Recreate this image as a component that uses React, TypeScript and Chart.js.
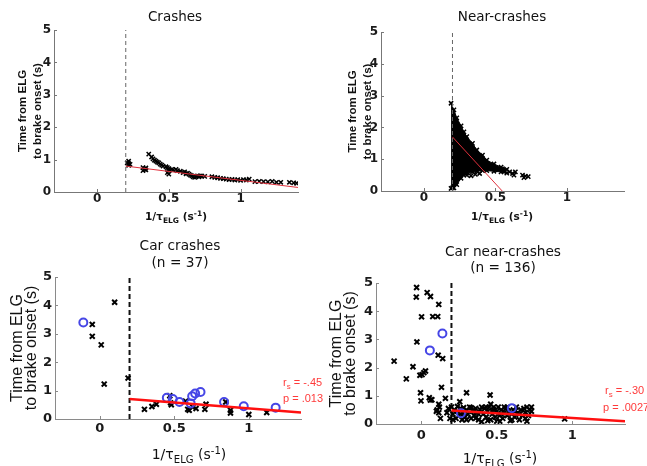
import React, { useEffect, useRef } from "react";
import { Chart, registerables } from "chart.js";
Chart.register(...registerables);

// ---------------- DATA ----------------
const X_TICKS = [0, 0.5, 1];
const Y_TICKS = [0, 1, 2, 3, 4, 5];
const THRESHOLD_X = [0.2, 0.2];
const THRESHOLD_Y = [0, 5];

// Crashes (top-left)
const crashX = [0.21, 0.22, 0.22, 0.22, 0.23, 0.32, 0.32, 0.33, 0.34, 0.34, 0.36, 0.38, 0.39, 0.4, 0.41, 0.42, 0.43, 0.44, 0.45, 0.46, 0.48, 0.49, 0.49, 0.5, 0.5, 0.5, 0.52, 0.53, 0.55, 0.56, 0.58, 0.6, 0.61, 0.62, 0.63, 0.64, 0.65, 0.66, 0.67, 0.68, 0.69, 0.7, 0.71, 0.72, 0.73, 0.75, 0.8, 0.82, 0.84, 0.86, 0.88, 0.9, 0.92, 0.94, 0.96, 0.98, 1.0, 1.02, 1.04, 1.06, 1.1, 1.13, 1.16, 1.19, 1.22, 1.25, 1.28, 1.34, 1.37, 1.39];
const crashY = [0.9, 0.95, 0.88, 0.82, 0.85, 0.75, 0.66, 0.7, 0.68, 0.74, 1.17, 1.08, 1.02, 0.98, 0.95, 0.92, 0.9, 0.86, 0.83, 0.8, 0.78, 0.75, 0.6, 0.55, 0.65, 0.72, 0.7, 0.68, 0.7, 0.66, 0.64, 0.6, 0.62, 0.56, 0.58, 0.55, 0.52, 0.5, 0.47, 0.45, 0.48, 0.5, 0.47, 0.5, 0.49, 0.48, 0.47, 0.45, 0.44, 0.42, 0.41, 0.4, 0.38, 0.39, 0.37, 0.38, 0.36, 0.38, 0.37, 0.4, 0.32, 0.33, 0.32, 0.31, 0.33, 0.3, 0.3, 0.3, 0.28, 0.27];
const crashFitX = [0.2, 1.4];
const crashFitY = [0.8, 0.14];

// Near-crashes (top-right): outline of the dense cloud of points
const nearEnvX = [0.19, 0.21, 0.23, 0.26, 0.28, 0.3, 0.34, 0.37, 0.41, 0.44, 0.49, 0.54, 0.58];
const nearUpperY = [2.76, 2.55, 2.3, 2.05, 1.86, 1.71, 1.5, 1.29, 1.13, 0.97, 0.85, 0.75, 0.68];
const nearLowerY = [0.08, 0.1, 0.2, 0.4, 0.5, 0.56, 0.6, 0.62, 0.64, 0.64, 0.62, 0.6, 0.56];
const nearSparseX = [0.2, 0.3, 0.33, 0.36, 0.39, 0.55, 0.56, 0.6, 0.62, 0.63, 0.64, 0.69, 0.7, 0.71, 0.73];
const nearSparseY = [0.1, 0.5, 0.48, 0.52, 0.55, 0.7, 0.6, 0.6, 0.55, 0.5, 0.6, 0.5, 0.42, 0.47, 0.45];
const nearFitX = [0.2, 0.548];
const nearFitY = [1.7, 0];

// Car crashes (bottom-left)
const carCrossX = [-0.05, -0.05, 0.01, 0.1, 0.03, 0.19, 0.3, 0.35, 0.38, 0.47, 0.475, 0.576, 0.59, 0.624, 0.646, 0.6, 0.713, 0.705, 0.845, 0.877, 0.877, 1.0, 1.12, 0.48];
const carCrossY = [3.33, 2.91, 2.61, 4.11, 1.23, 1.44, 0.34, 0.44, 0.52, 0.82, 0.57, 0.63, 0.34, 0.42, 0.37, 0.31, 0.52, 0.34, 0.6, 0.31, 0.21, 0.16, 0.23, 0.5];
const carCircleX = [-0.11, 0.45, 0.49, 0.535, 0.61, 0.62, 0.64, 0.676, 0.834, 0.966, 1.18];
const carCircleY = [3.4, 0.75, 0.7, 0.6, 0.55, 0.8, 0.9, 0.95, 0.6, 0.45, 0.4];
const carFitX = [0.2, 1.35];
const carFitY = [0.7, 0.23];

// Car near-crashes (bottom-right)
const carNearCrossX = [-0.031, -0.033, 0.039, 0.061, 0.116, 0.002, 0.076, 0.109, -0.029, 0.112, 0.142, -0.18, -0.055, -0.099, -0.009, 0.017, 0.028, 0.005, 0.134, -0.005, -0.002, 0.053, 0.06, 0.07, 0.16, 0.116, 0.105, 0.12, 0.116, 0.127, 0.17, 0.18, 0.19, 0.1,
  0.255, 0.3, 0.456, 0.95, 0.22, 0.21, 0.23, 0.24, 0.25, 0.26, 0.27, 0.28, 0.29, 0.3, 0.31, 0.32, 0.33, 0.34, 0.35, 0.36, 0.37, 0.38, 0.39, 0.4, 0.41, 0.42, 0.43, 0.44, 0.45, 0.46, 0.46, 0.47, 0.48, 0.49, 0.5, 0.5, 0.51, 0.52, 0.53, 0.54, 0.55, 0.56, 0.57, 0.58, 0.59, 0.6, 0.61, 0.62, 0.63, 0.64, 0.65, 0.66, 0.67, 0.68, 0.69, 0.7, 0.71, 0.72, 0.73, 0.73, 0.2, 0.21, 0.24, 0.28, 0.33, 0.36, 0.4, 0.44, 0.48, 0.52, 0.55, 0.35, 0.3, 0.43, 0.57, 0.6, 0.62, 0.26, 0.38, 0.47, 0.53, 0.65, 0.69, 0.7];
const carNearCrossY = [4.84, 4.5, 4.66, 4.52, 4.24, 3.8, 3.81, 3.81, 2.91, 2.44, 2.32, 2.23, 2.03, 1.6, 1.73, 1.82, 1.88, 1.75, 1.3, 1.11, 0.82, 0.93, 0.85, 0.86, 0.91, 0.7, 0.5, 0.6, 0.4, 0.2, 0.4, 0.55, 0.2, 0.45,
  0.79, 1.11, 1.03, 0.18, 0.5, 0.35, 0.2, 0.45, 0.3, 0.55, 0.15, 0.4, 0.25, 0.5, 0.35, 0.6, 0.2, 0.45, 0.3, 0.55, 0.4, 0.15, 0.5, 0.08, 0.35, 0.55, 0.25, 0.45, 0.6, 0.7, 0.15, 0.35, 0.5, 0.25, 0.45, 0.1, 0.6, 0.3, 0.5, 0.2, 0.4, 0.55, 0.3, 0.45, 0.12, 0.35, 0.5, 0.25, 0.6, 0.4, 0.15, 0.5, 0.3, 0.55, 0.4, 0.6, 0.3, 0.5, 0.45, 0.6, 0.6, 0.15, 0.62, 0.58, 0.58, 0.2, 0.6, 0.12, 0.6, 0.1, 0.6, 0.5, 0.15, 0.6, 0.6, 0.15, 0.45, 0.35, 0.35, 0.45, 0.35, 0.35, 0.2, 0.1];
const carNearCircleX = [0.14, 0.057, 0.263, 0.6];
const carNearCircleY = [3.21, 2.61, 0.38, 0.56];
const carNearFitX = [0.2, 1.35];
const carNearFitY = [0.48, 0.1];

// ---------------- HELPERS ----------------
const xy = (xs: number[], ys: number[]) => xs.map((x, i) => ({ x, y: ys[i] }));

const BLUE = "#4646e6";
const RED_TOP = "#e0303c";
const RED = "#ff1010";

const inwardTicks = {
  id: "inwardTicks",
  afterDatasetsDraw(chart: any, _a: any, opts: any) {
    const { ctx } = chart;
    const xs = chart.scales.x;
    const ys = chart.scales.y;
    ctx.save();
    ctx.strokeStyle = opts.color;
    ctx.lineWidth = 1;
    ctx.beginPath();
    for (const v of X_TICKS) {
      const px = Math.round(xs.getPixelForValue(v)) + 0.5;
      ctx.moveTo(px, ys.bottom);
      ctx.lineTo(px, ys.bottom - opts.len);
    }
    for (const v of Y_TICKS) {
      const py = Math.round(ys.getPixelForValue(v)) + 0.5;
      ctx.moveTo(xs.left, py);
      ctx.lineTo(xs.left + opts.len, py);
    }
    ctx.stroke();
    ctx.restore();
  },
};

type Spec = {
  box: { l: number; t: number; w: number; h: number };
  area: { x0: number; x1: number; y0: number; y1: number };
  xMin: number;
  xMax: number;
  xScaleH: number;
  tickFont: any;
  xTickPad: number;
  yTickPad: number;
  yTitleFont: any;
  yTitlePadTop: number;
  axisColor: string;
  datasets: any[];
};

function buildConfig(s: Spec): any {
  const padTop = s.area.y0 - s.box.t;
  const padRight = s.box.l + s.box.w - s.area.x1;
  const padBottom = s.box.t + s.box.h - s.area.y1 - s.xScaleH;
  const yScaleW = s.area.x0 - s.box.l;
  return {
    type: "scatter",
    data: { datasets: s.datasets },
    options: {
      animation: false,
      responsive: false,
      events: [],
      layout: { padding: { left: 0, right: padRight, top: padTop, bottom: padBottom } },
      plugins: {
        legend: { display: false },
        tooltip: { enabled: false },
        inwardTicks: { color: s.axisColor, len: 3 },
      },
      scales: {
        x: {
          type: "linear",
          min: s.xMin,
          max: s.xMax,
          afterBuildTicks: (sc: any) => {
            sc.ticks = X_TICKS.map((v) => ({ value: v }));
          },
          ticks: { font: s.tickFont, color: "#1a1a1a", padding: s.xTickPad, maxRotation: 0, autoSkip: false, callback: (v: any) => String(v) },
          grid: { display: false, drawTicks: false },
          border: { display: true, color: s.axisColor, width: 1 },
          afterFit: (sc: any) => {
            sc.height = s.xScaleH;
          },
        },
        y: {
          type: "linear",
          min: 0,
          max: 5,
          afterBuildTicks: (sc: any) => {
            sc.ticks = Y_TICKS.map((v) => ({ value: v }));
          },
          ticks: { font: s.tickFont, color: "#1a1a1a", padding: s.yTickPad, autoSkip: false, callback: (v: any) => String(v) },
          grid: { display: false, drawTicks: false },
          border: { display: true, color: s.axisColor, width: 1 },
          title: {
            display: true,
            text: ["Time from ELG", "to brake onset (s)"],
            font: s.yTitleFont,
            color: "#111",
            padding: { top: s.yTitlePadTop, bottom: 0 },
          },
          afterFit: (sc: any) => {
            sc.width = yScaleW;
          },
        },
      },
    },
    plugins: [inwardTicks],
  };
}

const lineDs = (xs: number[], ys: number[], color: string, width: number, dash: number[] = []) => ({
  type: "line",
  data: xy(xs, ys),
  borderColor: color,
  borderWidth: width,
  borderDash: dash,
  pointRadius: 0,
  fill: false,
  tension: 0,
});

const crossDs = (xs: number[], ys: number[], r: number, w: number) => ({
  data: xy(xs, ys),
  pointStyle: "crossRot",
  pointRadius: r,
  borderColor: "#000",
  backgroundColor: "#000",
  pointBorderWidth: w,
  borderWidth: w,
});

const circleDs = (xs: number[], ys: number[]) => ({
  data: xy(xs, ys),
  pointStyle: "circle",
  pointRadius: 4,
  borderColor: BLUE,
  backgroundColor: "rgba(0,0,0,0)",
  borderWidth: 2,
});

const TOP_TICK_FONT = { family: "'DejaVu Sans'", size: 12, weight: "bold" };
const BOT_TICK_FONT = { family: "'DejaVu Sans'", size: 13, weight: "bold" };
const TOP_YTITLE_FONT = { family: "'Liberation Sans'", size: 11.5, weight: "bold", lineHeight: 1.27 };
const BOT_YTITLE_FONT = { family: "'Liberation Sans'", size: 16, weight: "normal", lineHeight: 0.86 };

const specs: Spec[] = [
  {
    box: { l: 0, t: 0, w: 322, h: 212 },
    area: { x0: 54, x1: 298, y0: 30, y1: 192 },
    xMin: -0.3,
    xMax: 1.4,
    xScaleH: 18,
    tickFont: TOP_TICK_FONT,
    xTickPad: 0,
    yTickPad: 3,
    yTitleFont: TOP_YTITLE_FONT,
    yTitlePadTop: 16,
    axisColor: "#777",
    datasets: [
      lineDs(crashFitX, crashFitY, RED_TOP, 1),
      lineDs(THRESHOLD_X, THRESHOLD_Y, "#666", 1, [4, 3]),
      crossDs(crashX, crashY, 3, 1.5),
    ],
  },
  {
    box: { l: 320, t: 0, w: 327, h: 212 },
    area: { x0: 381, x1: 624, y0: 32, y1: 191 },
    xMin: -0.3,
    xMax: 1.4,
    xScaleH: 18,
    tickFont: TOP_TICK_FONT,
    xTickPad: 0,
    yTickPad: 3,
    yTitleFont: TOP_YTITLE_FONT,
    yTitlePadTop: 26,
    axisColor: "#777",
    datasets: [
      lineDs(nearFitX, nearFitY, RED_TOP, 1),
      lineDs(THRESHOLD_X, THRESHOLD_Y, "#666", 1, [4, 3]),
      crossDs(nearSparseX, nearSparseY, 3, 1.5),
      {
        ...crossDs(nearEnvX, nearLowerY, 3, 1.5),
        type: "line",
        showLine: true,
        borderWidth: 1,
        fill: false,
      },
      {
        ...crossDs(nearEnvX, nearUpperY, 3, 1.5),
        type: "line",
        showLine: true,
        borderWidth: 1,
        fill: 3,
        backgroundColor: "#000",
      },
    ],
  },
  {
    box: { l: 0, t: 226, w: 325, h: 220 },
    area: { x0: 55, x1: 301, y0: 277, y1: 419 },
    xMin: -0.3,
    xMax: 1.35,
    xScaleH: 20,
    tickFont: BOT_TICK_FONT,
    xTickPad: 2,
    yTickPad: 3,
    yTitleFont: BOT_YTITLE_FONT,
    yTitlePadTop: 10.5,
    axisColor: "#8a8a8a",
    datasets: [
      lineDs(carFitX, carFitY, RED, 2.5),
      circleDs(carCircleX, carCircleY),
      crossDs(carCrossX, carCrossY, 3.5, 2),
      lineDs(THRESHOLD_X, THRESHOLD_Y, "#111", 2, [5, 3]),
    ],
  },
  {
    box: { l: 320, t: 226, w: 327, h: 220 },
    area: { x0: 376, x1: 625, y0: 283, y1: 424 },
    xMin: -0.3,
    xMax: 1.35,
    xScaleH: 18,
    tickFont: BOT_TICK_FONT,
    xTickPad: 4,
    yTickPad: 3,
    yTitleFont: BOT_YTITLE_FONT,
    yTitlePadTop: 10,
    axisColor: "#8a8a8a",
    datasets: [
      lineDs(carNearFitX, carNearFitY, RED, 2.5),
      circleDs(carNearCircleX, carNearCircleY),
      crossDs(carNearCrossX, carNearCrossY, 3.5, 2),
      lineDs(THRESHOLD_X, THRESHOLD_Y, "#111", 2, [5, 3]),
    ],
  },
];

function Panel({ spec }: { spec: Spec }) {
  const ref = useRef<HTMLCanvasElement>(null);
  useEffect(() => {
    const chart = new Chart(ref.current as HTMLCanvasElement, buildConfig(spec));
    return () => chart.destroy();
  }, [spec]);
  const { l, t, w, h } = spec.box;
  return (
    <canvas
      ref={ref}
      width={w}
      height={h}
      style={{ position: "absolute", left: l, top: t, width: w, height: h }}
    />
  );
}

function Text({ x, y, size, bold, color = "#111", align = "center", family = "'DejaVu Sans', sans-serif", children }: any) {
  return (
    <div
      style={{
        position: "absolute",
        left: x,
        top: y,
        transform: align === "center" ? "translate(-50%, -50%)" : "translate(0, -50%)",
        fontFamily: family,
        fontSize: size,
        fontWeight: bold ? "bold" : "normal",
        lineHeight: 1,
        color,
        whiteSpace: "nowrap",
      }}
    >
      {children}
    </div>
  );
}

const Sub = ({ children }: any) => (
  <span style={{ fontSize: "0.72em", position: "relative", top: "0.38em" }}>{children}</span>
);
const Sup = ({ children }: any) => (
  <span style={{ fontSize: "0.72em", position: "relative", top: "-0.5em" }}>{children}</span>
);

const XLabel = ({ x, y, size, bold }: any) => (
  <Text x={x} y={y} size={size} bold={bold}>
    1/τ<Sub>ELG</Sub> (s<Sup>-1</Sup>)
  </Text>
);

const STAT_RED = "#ff3a3a";
const STAT_FONT = "'Liberation Sans', sans-serif";

export default function App() {
  return (
    <div style={{ position: "absolute", left: 0, top: 0, width: 647, height: 466, background: "#fff", overflow: "hidden" }}>
      {specs.map((s, i) => (
        <Panel key={i} spec={s} />
      ))}
      <Text x={175} y={17} size={13.5}>Crashes</Text>
      <Text x={502} y={17} size={13.5}>Near-crashes</Text>
      <Text x={180} y={246} size={13.7}>Car crashes</Text>
      <Text x={180} y={263} size={13.7}>(n = 37)</Text>
      <Text x={503} y={252} size={13.7}>Car near-crashes</Text>
      <Text x={503} y={268} size={13.7}>(n = 136)</Text>
      <XLabel x={176} y={216} size={10.5} bold />
      <XLabel x={502} y={216} size={10.5} bold />
      <XLabel x={189} y={454} size={14} />
      <XLabel x={500} y={458} size={14} />
      <Text x={283} y={382} size={11} color={STAT_RED} align="left" family={STAT_FONT}>
        r<Sub>s</Sub> = -.45
      </Text>
      <Text x={283} y={398} size={11} color={STAT_RED} align="left" family={STAT_FONT}>
        p = .013
      </Text>
      <Text x={605} y={390} size={11} color={STAT_RED} align="left" family={STAT_FONT}>
        r<Sub>s</Sub> = -.30
      </Text>
      <Text x={603} y={407} size={11} color={STAT_RED} align="left" family={STAT_FONT}>
        p = .0027
      </Text>
    </div>
  );
}
